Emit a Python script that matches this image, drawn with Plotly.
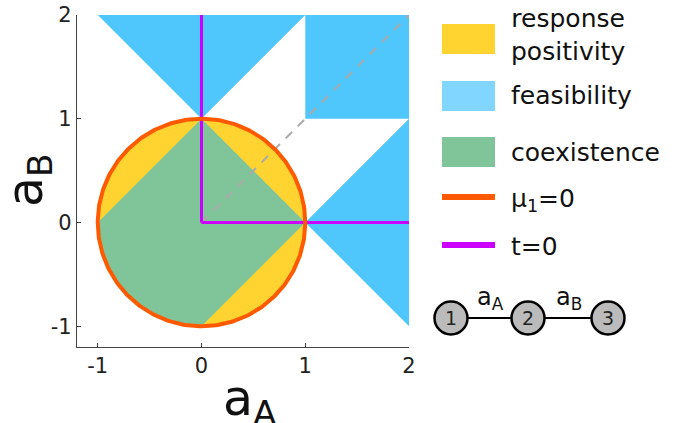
import numpy as np
import plotly.graph_objects as go

# region outlines (a_A, a_B)
feas_top_x = [-1, 1, 0]
feas_top_y = [2, 2, 1]
feas_sq_x = [1, 2, 2, 1]
feas_sq_y = [1, 1, 2, 2]
feas_right_x = [1, 2, 2]
feas_right_y = [0, 1, -1]
coex_x = [-1, 0, 1, 0]
coex_y = [0, 1, 0, -1]
radius = 1.0
diag_x = [0, 2]
diag_y = [0, 2]
t0_x = [0, 0, None, 0, 2]
t0_y = [2, 0, None, 0, 0]

ticks = [-1, 0, 1, 2]
tick_text = ["-1", "0", "1", "2"]
legend_labels = ["response<br>positivity", "feasibility", "coexistence",
                 "\u03bc<sub>1</sub>=0", "t=0"]
node_labels = ["1", "2", "3"]
edge_labels = ["a<sub>A</sub>", "a<sub>B</sub>"]

YELLOW = "#FFD430"
BLUE = "#4FC7FC"
BLUE_LEG = "#80D6FF"
GREEN = "#80C49A"
ORANGE = "#FF5A00"
PURPLE = "#CC00FF"
FONT = "DejaVu Sans"

W, H = 681, 423
L, R, T, B = 77, 272, 15, 76
PW, PH = W - L - R, H - T - B


def px(x):
    return (x - L) / PW


def py(y):
    return (H - B - y) / PH


theta = np.linspace(0, 2 * np.pi, 361)
circ_x = radius * np.cos(theta)
circ_y = radius * np.sin(theta)

# coexistence: diamond edges on top/right, circle arc bottom-left
arc = np.linspace(1.5 * np.pi, np.pi, 91)
gx = list(coex_x) + list(radius * np.cos(arc))
gy = list(coex_y) + list(radius * np.sin(arc))

fig = go.Figure()
fig.add_trace(go.Scatter(x=circ_x, y=circ_y, fill="toself", fillcolor=YELLOW,
                         mode="none", hoverinfo="skip"))
fig.add_trace(go.Scatter(x=gx, y=gy, fill="toself", fillcolor=GREEN,
                         mode="none", hoverinfo="skip"))
for fx, fy in [(feas_top_x, feas_top_y), (feas_sq_x, feas_sq_y),
               (feas_right_x, feas_right_y)]:
    fig.add_trace(go.Scatter(x=fx, y=fy, fill="toself", fillcolor=BLUE,
                             mode="none", hoverinfo="skip"))
fig.add_trace(go.Scatter(x=diag_x, y=diag_y, mode="lines",
                         line=dict(color="#AAAAAA", width=2, dash="9px,8px")))
fig.add_trace(go.Scatter(x=t0_x, y=t0_y, mode="lines",
                         line=dict(color=PURPLE, width=3)))
fig.add_trace(go.Scatter(x=circ_x, y=circ_y, mode="lines",
                         line=dict(color=ORANGE, width=4)))

shapes = []
annots = []

# hand-made legend
swatch_rows = [(24, 54, YELLOW), (81, 111, BLUE_LEG), (137, 167, GREEN)]
for y0, y1, c in swatch_rows:
    shapes.append(dict(type="rect", xref="paper", yref="paper",
                       x0=px(442), x1=px(495), y0=py(y1), y1=py(y0),
                       fillcolor=c, line=dict(width=0)))
for yy, c in [(197, ORANGE), (245, PURPLE)]:
    shapes.append(dict(type="line", xref="paper", yref="paper",
                       x0=px(442), x1=px(495), y0=py(yy), y1=py(yy),
                       line=dict(color=c, width=6)))
for lab, yy in zip(legend_labels, [35, 95, 152, 200, 246]):
    annots.append(dict(text=lab, xref="paper", yref="paper", x=px(509), y=py(yy),
                       xanchor="left", yanchor="middle", showarrow=False,
                       font=dict(size=25, color="#111111")))

# chain diagram 1 - 2 - 3
node_x = [451, 528, 608]
node_y = 318
shapes.append(dict(type="line", xref="paper", yref="paper",
                   x0=px(node_x[0]), x1=px(node_x[-1]), y0=py(node_y), y1=py(node_y),
                   line=dict(color="black", width=2)))
rn = 16.5
for nx, lab in zip(node_x, node_labels):
    shapes.append(dict(type="circle", xref="paper", yref="paper",
                       x0=px(nx - rn), x1=px(nx + rn), y0=py(node_y + rn), y1=py(node_y - rn),
                       fillcolor="#BBBBBB", line=dict(color="black", width=2.5)))
    annots.append(dict(text=lab, xref="paper", yref="paper", x=px(nx), y=py(node_y),
                       xanchor="center", yanchor="middle",
                       showarrow=False, font=dict(size=19, color="#222222")))
for lab, ex in zip(edge_labels, [490, 569]):
    annots.append(dict(text=lab, xref="paper", yref="paper", x=px(ex), y=py(298),
                       xanchor="center", yanchor="middle",
                       showarrow=False, font=dict(size=24, color="#111111")))

# axis titles
annots.append(dict(text="a<sub>A</sub>", xref="paper", yref="paper",
                   x=px(250), y=py(401), xanchor="center", yanchor="middle",
                   showarrow=False, font=dict(size=49, color="#111111")))
annots.append(dict(text="a<sub>B</sub>", xref="paper", yref="paper",
                   x=px(28), y=py(180), xanchor="center", yanchor="middle",
                   textangle=-90, showarrow=False,
                   font=dict(size=49, color="#111111")))

axis = dict(range=[-1.2, 2], tickvals=ticks, ticktext=tick_text,
            showgrid=False, zeroline=False, automargin=False,
            showline=True, linecolor="#444444", linewidth=1.2,
            ticks="inside", ticklen=4, tickcolor="#444444",
            tickfont=dict(size=21, color="#222222"))

fig.update_layout(
    width=W, height=H,
    margin=dict(l=L, r=R, t=T, b=B),
    paper_bgcolor="white", plot_bgcolor="white",
    font=dict(family=FONT),
    showlegend=False,
    xaxis=axis,
    yaxis=axis,
    shapes=shapes,
    annotations=annots,
)

# page margin would shift the figure by 8px
fig.write_html("out.html", config={"displayModeBar": False},
               post_script="document.body.style.margin='0';")
